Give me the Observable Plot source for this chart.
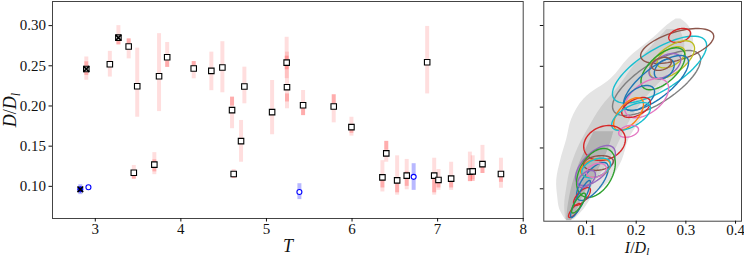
<!DOCTYPE html>
<html><head><meta charset="utf-8">
<script src="https://cdn.jsdelivr.net/npm/d3@7"></script>
<script src="https://cdn.jsdelivr.net/npm/@observablehq/plot@0.6"></script>
<style>
body{margin:0;background:#fff;}
#wrap{position:relative;width:744px;height:257px;overflow:hidden;}
#left{position:absolute;left:0;top:0;}
#right{position:absolute;left:530px;top:0;}
svg text, svg tspan{font-family:'Liberation Serif','DejaVu Serif',serif !important;}
</style></head><body><div id="wrap"><div id="left"></div><div id="right"></div></div>
<script>
// ---- Left panel data: D/D_l vs T ----
const redT  = [2.895,3.17,3.27,3.39,3.49,3.745,3.84,3.45,3.69,4.15,4.356,4.485,4.742,4.598,4.703,4.617,5.066,5.236,5.24,5.428,5.786,5.993,6.40,6.355,6.527,6.878,6.639,6.96,7.01,7.158,7.377,7.41,7.524,7.74];
const redD  = [0.246,0.252,0.285,0.274,0.2246,0.237,0.2606,0.117,0.127,0.2466,0.2437,0.2478,0.2242,0.1948,0.1563,0.1153,0.1923,0.254,0.2234,0.201,0.1994,0.1737,0.141,0.1112,0.1074,0.2544,0.1133,0.1133,0.108,0.1096,0.1183,0.1186,0.1277,0.1153];
const redLo = [0.232,0.236,0.276,0.2586,0.186,0.193,0.248,0.1087,0.1145,0.2338,0.219,0.2164,0.2027,0.1717,0.130,0.1096,0.1642,0.234,0.1965,0.188,0.179,0.1625,0.130,0.093,0.089,0.215,0.0957,0.089,0.095,0.095,0.1056,0.108,0.116,0.0976];
const redHi = [0.261,0.268,0.300,0.2835,0.272,0.290,0.279,0.126,0.142,0.2553,0.267,0.280,0.2483,0.211,0.182,0.121,0.2317,0.2855,0.267,0.2193,0.2139,0.186,0.156,0.132,0.138,0.299,0.1335,0.135,0.121,0.130,0.1426,0.138,0.151,0.135];
const redDenseLo = [0.238,null,0.276,0.274,null,null,0.248,0.109,0.118,0.246,null,null,null,0.200,null,0.110,null,0.245,0.205,0.188,0.196,0.166,0.145,0.098,0.092,null,0.100,0.092,0.098,0.098,0.106,0.106,0.116,0.105];
const redDenseHi = [0.255,null,0.283,0.2835,null,null,0.256,0.115,0.133,0.2553,null,null,null,0.211,null,0.116,null,0.262,0.215,0.200,0.214,0.176,0.156,0.112,0.105,null,0.118,0.110,0.110,0.110,0.117,0.117,0.127,0.118];
const blueT  = [2.825,2.92,5.385,6.72];
const blueD  = [0.0963,0.0988,0.093,0.1118];
const blueLo = [0.0897,null,0.0835,0.095];
const blueHi = [0.102,null,0.1033,0.1282];
const blueFilled = [true,false,false,false];
const crossT = [2.895,3.27,2.825];
const crossD = [0.246,0.285,0.0963];
const leftXTicks = [3,4,5,6,7,8];
const leftYTicks = [0.10,0.15,0.20,0.25,0.30];

// ---- Right panel data: D/D_l vs I/D_l ----
const cloudOuterD = [0.062,0.075,0.09,0.11,0.135,0.16,0.185,0.21,0.235,0.26,0.285,0.30,0.308];
const cloudOuterL = [0.058,0.046,0.042,0.040,0.048,0.060,0.070,0.095,0.150,0.185,0.235,0.262,0.28];
const cloudOuterR = [0.075,0.095,0.112,0.148,0.172,0.185,0.210,0.235,0.275,0.310,0.315,0.305,0.29];
const cloudMidD = [0.062,0.08,0.10,0.125,0.15,0.175,0.20,0.225,0.25,0.275,0.295];
const cloudMidL = [0.058,0.056,0.060,0.068,0.083,0.105,0.130,0.165,0.195,0.232,0.262];
const cloudMidR = [0.072,0.092,0.108,0.136,0.160,0.180,0.205,0.240,0.280,0.298,0.288];
const cloudInD = [0.061,0.075,0.09,0.11,0.13,0.15,0.17];
const cloudInL = [0.060,0.062,0.066,0.074,0.085,0.10,0.115];
const cloudInR = [0.070,0.082,0.092,0.112,0.13,0.145,0.155];
// ellipse contours: colour, centre I, centre D, half-width I, half-height D, tilt (correlation)
const ellColor = ["#7f7f7f","#17becf","#8c564b","#d62728","#bcbd22","#bcbd22","#2ca02c","#9467bd","#1f77b4","#1f77b4","#8c564b","#e377c2","#1f77b4",
                  "#d62728","#ff7f0e","#17becf","#e377c2","#d62728",
                  "#9467bd","#2ca02c","#1f77b4","#ff7f0e","#8c564b","#17becf","#e377c2","#d62728","#d62728","#1f77b4","#2ca02c","#9467bd"];
const ellCI = [0.241,0.247,0.2825,0.2875,0.272,0.270,0.254,0.2577,0.240,0.2565,0.251,0.221,0.206,
               0.1998,0.1847,0.1897,0.1847,0.1363,
               0.118,0.119,0.112,0.118,0.124,0.1195,0.12,0.0909,0.0758,0.0879,0.0839,0.100];
const ellCD = [0.2296,0.246,0.2749,0.2878,0.258,0.261,0.247,0.2504,0.2296,0.2467,0.253,0.211,0.2112,
               0.1996,0.1916,0.1886,0.1704,0.1561,
               0.1285,0.1194,0.109,0.1255,0.1316,0.1255,0.1225,0.0906,0.0734,0.0875,0.0825,0.112];
const ellRI = [0.0887,0.0948,0.0736,0.022,0.0454,0.028,0.0444,0.032,0.0655,0.02,0.02,0.0444,0.031,
               0.029,0.030,0.039,0.02,0.042,
               0.04,0.039,0.032,0.03,0.03,0.029,0.02,0.017,0.012,0.02,0.014,0.018];
const ellRD = [0.0398,0.041,0.0214,0.0086,0.0233,0.013,0.0257,0.0153,0.0337,0.0122,0.008,0.024,0.0153,
               0.0122,0.020,0.0171,0.0073,0.0214,
               0.0245,0.030,0.0233,0.0116,0.009,0.012,0.0086,0.011,0.0086,0.0227,0.0122,0.0105];
const ellTilt = [0.72,0.72,0.55,0.3,0.6,0.5,0.6,0.5,0.75,0.4,0.3,0.5,0.5,
                 0.5,0.6,0.6,0.3,0.2,
                 0.6,0.4,0.7,0.3,0.2,0.4,0.3,0.7,0.8,0.9,0.8,0.5];
const rightXTicks = [0.1,0.2,0.3,0.4];
const rightYTicks = [0.10,0.15,0.20,0.25,0.30];

// ---- tables ----
const red = redT.map((t,i)=>({t, d:redD[i], lo:redLo[i], hi:redHi[i], dlo:redDenseLo[i], dhi:redDenseHi[i]}));
const blue = blueT.map((t,i)=>({t, d:blueD[i], lo:blueLo[i], hi:blueHi[i], f:blueFilled[i]}));
const cross = crossT.map((t,i)=>({t, d:crossD[i]}));
const FONT = "'Liberation Serif','DejaVu Serif',serif";

const left = Plot.plot({
  width:530, height:257, marginLeft:52, marginRight:7.3, marginTop:1, marginBottom:39,
  x:{domain:[2.5,8]}, y:{domain:[0.06,0.33]},
  style:{fontFamily:FONT, fontSize:"15px", color:"#111", background:"white", overflow:"visible"},
  marks:[
    Plot.ruleX(red,{x:"t",y1:"lo",y2:"hi",stroke:"#ff0000",strokeOpacity:0.13,strokeWidth:4}),
    Plot.ruleX(red.filter(d=>d.dlo!=null),{x:"t",y1:"dlo",y2:"dhi",stroke:"#ff0000",strokeOpacity:0.22,strokeWidth:4}),
    Plot.ruleX(blue.filter(d=>d.lo!=null),{x:"t",y1:"lo",y2:"hi",stroke:"#0000ff",strokeOpacity:0.28,strokeWidth:4}),
    Plot.dot(red,{x:"t",y:"d",symbol:"square",r:3.1,fill:"white",stroke:"black",strokeWidth:1.1}),
    Plot.dot(blue,{x:"t",y:"d",r:2.5,fill:d=>d.f?"#0000ff":"white",stroke:"#0000ff",strokeWidth:1.1}),
    Plot.dot(cross,{x:"t",y:"d",symbol:"times",r:2.7,stroke:"black",strokeWidth:1.6}),
    Plot.frame({stroke:"#444",strokeWidth:1}),
    Plot.axisX({ticks:leftXTicks, tickSize:3.5, tickPadding:1.5, label:null, tickFormat:d=>String(d)}),
    Plot.axisY({ticks:leftYTicks, tickSize:3.5, tickPadding:3, label:null, tickFormat:d3.format(".2f")})
  ]
});
document.getElementById("left").appendChild(left);
{
  const s = d3.select(left);
  const yl = s.append("text").attr("transform","translate(16,110) rotate(-90)")
    .attr("text-anchor","middle").attr("font-size",18).attr("fill","#111");
  yl.append("tspan").attr("font-style","italic").text("D");
  yl.append("tspan").text("/");
  yl.append("tspan").attr("font-style","italic").text("D");
  yl.append("tspan").attr("font-style","italic").attr("font-size",12).attr("dy",4).text("l");
  s.append("text").attr("x",288).attr("y",252).attr("text-anchor","middle")
    .attr("font-size",18).attr("font-style","italic").attr("fill","#111").text("T");
}

// ellipse outlines through the scales
const ellPts = [];
ellColor.forEach((c,i)=>{
  const k = Math.sqrt(1-ellTilt[i]*ellTilt[i]);
  for (let j=0;j<=72;j++){
    const a = j/72*2*Math.PI;
    ellPts.push({id:i, c, x: ellCI[i]+ellRI[i]*Math.cos(a), y: ellCD[i]+ellRD[i]*(ellTilt[i]*Math.cos(a)+k*Math.sin(a))});
  }
});
const cloud = (D,L,R)=>D.map((d,i)=>({d, a:L[i], b:R[i]}));

const right = Plot.plot({
  width:214, height:257, marginLeft:13.3, marginRight:3, marginTop:1, marginBottom:36.3,
  x:{domain:[0.014,0.412]}, y:{domain:[0.0603,0.3294]},
  color:{type:"identity"},
  style:{fontFamily:FONT, fontSize:"15px", color:"#111", background:"white", overflow:"visible"},
  marks:[
    Plot.areaX(cloud(cloudOuterD,cloudOuterL,cloudOuterR),{y:"d",x1:"a",x2:"b",fill:"#e4e4e4",curve:"catmull-rom",clip:true}),
    Plot.areaX(cloud(cloudMidD,cloudMidL,cloudMidR),{y:"d",x1:"a",x2:"b",fill:"#cfcfcf",curve:"catmull-rom",clip:true}),
    Plot.areaX(cloud(cloudInD,cloudInL,cloudInR),{y:"d",x1:"a",x2:"b",fill:"#b4b4b4",curve:"catmull-rom",clip:true}),
    Plot.line(ellPts,{x:"x",y:"y",z:"id",stroke:"c",strokeWidth:1.4,curve:"linear",clip:true}),
    Plot.frame({stroke:"#444",strokeWidth:1}),
    Plot.axisX({ticks:rightXTicks, tickSize:3, tickPadding:0, label:null, tickFormat:d3.format(".1f")}),
    Plot.axisY({ticks:rightYTicks, tickSize:3.5, label:null, tickFormat:()=>""})
  ]
});
document.getElementById("right").appendChild(right);
{
  const s = d3.select(right);
  const xl = s.append("text").attr("x",107).attr("y",253).attr("text-anchor","middle")
    .attr("font-size",16).attr("fill","#111");
  xl.append("tspan").attr("font-style","italic").text("I");
  xl.append("tspan").text("/");
  xl.append("tspan").attr("font-style","italic").text("D");
  xl.append("tspan").attr("font-style","italic").attr("font-size",11).attr("dy",2).text("l");
}
</script></body></html>
